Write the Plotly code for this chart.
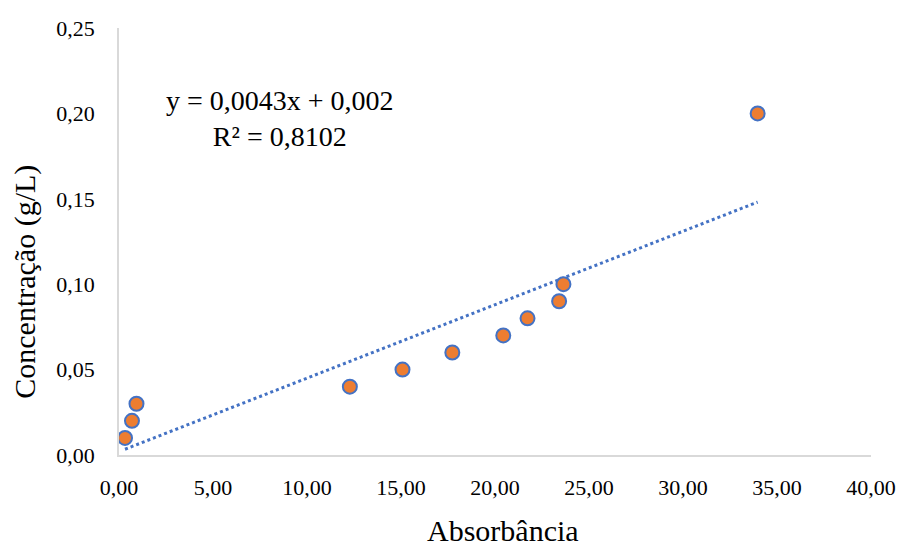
import plotly.graph_objects as go

absorbancia = [0.32, 0.69, 0.93, 12.28, 15.08, 17.73, 20.44, 21.73, 23.41, 23.64, 33.97]
concentracao = [0.01, 0.02, 0.03, 0.04, 0.05, 0.06, 0.07, 0.08, 0.09, 0.10, 0.20]
slope = 0.0043
intercept = 0.002
eq_text = "y = 0,0043x + 0,002<br>R² = 0,8102"
x_title = "Absorbância"
y_title = "Concentração (g/L)"
x_ticks = [0, 5, 10, 15, 20, 25, 30, 35, 40]
y_ticks = [0, 0.05, 0.10, 0.15, 0.20, 0.25]

FONT = "Liberation Serif, Times New Roman, serif"
W, H = 908, 547
L, R, T, B = 119, 31, 28, 92
PW, PH = W - L - R, H - T - B

trend_x = [min(absorbancia), max(absorbancia)]
trend_y = [slope * v + intercept for v in trend_x]

fig = go.Figure()
fig.add_trace(go.Scatter(
    x=trend_x, y=trend_y, mode="lines",
    line=dict(color="#4472C4", width=3, dash="dot"),
    hoverinfo="skip", showlegend=False,
))
fig.add_trace(go.Scatter(
    x=absorbancia, y=concentracao, mode="markers",
    marker=dict(size=14, color="#ED7D31", line=dict(color="#4472C4", width=2)),
    showlegend=False,
))

def px(xp):
    return (xp - L) / PW

def py(yp):
    return (H - B - yp) / PH

fig.add_annotation(
    x=px(281), y=py(118), xref="paper", yref="paper",
    text=eq_text, showarrow=False,
    font=dict(family=FONT, size=28, color="#000000"),
    align="center", xanchor="center", yanchor="middle",
)
fig.add_annotation(
    x=px(506), y=py(530), xref="paper", yref="paper",
    text=x_title, showarrow=False,
    font=dict(family=FONT, size=30, color="#000000"),
    xanchor="center", yanchor="middle",
)
fig.add_annotation(
    x=px(24), y=py(282), xref="paper", yref="paper",
    text=y_title, showarrow=False, textangle=-90,
    font=dict(family=FONT, size=30, color="#000000"),
    xanchor="center", yanchor="middle",
)

fig.update_layout(
    width=W, height=H,
    margin=dict(l=L, r=R, t=T, b=B),
    paper_bgcolor="white", plot_bgcolor="white",
    separators=",.",
    font=dict(family=FONT, color="#000000"),
    showlegend=False,
)

fig.update_xaxes(
    range=[0, 40], tickvals=x_ticks, tickformat=".2f",
    showgrid=False, zeroline=False,
    showline=True, linecolor="#d9d9d9", linewidth=1.5,
    ticks="", ticklabelstandoff=12,
    tickfont=dict(family=FONT, size=22, color="#000000"),
)
fig.update_yaxes(
    range=[0, 0.25], tickvals=y_ticks, tickformat=".2f",
    showgrid=False, zeroline=False,
    showline=True, linecolor="#d9d9d9", linewidth=1.5,
    ticks="", ticklabelstandoff=18,
    tickfont=dict(family=FONT, size=22, color="#000000"),
)

fig.write_html("out.html")
